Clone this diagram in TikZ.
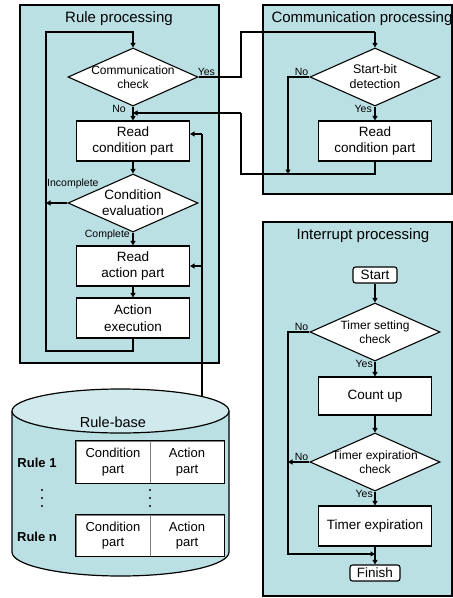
\documentclass[tikz,border=0pt]{standalone}
\usepackage{fontspec}
\setmainfont{Liberation Sans}
\usepackage{tikz}
\usetikzlibrary{shapes.geometric,arrows.meta}
\definecolor{panelcyan}{RGB}{187,224,228}
\tikzstyle{arrow} = [line width=1.8pt,-{Triangle[length=4.5pt,width=5pt]}]
\tikzstyle{thinline} = [line width=1.1pt]
\tikzstyle{panel} = [draw, line width=1.2pt, fill=panelcyan]
\tikzstyle{title} = [font=\fontsize{15}{18}\selectfont]
\tikzstyle{process} = [draw, fill=white, line width=1.1pt, minimum width=113pt, minimum height=40pt, inner sep=0pt, align=center, font=\fontsize{13.5}{16.5}\selectfont]
\tikzstyle{decision} = [draw, fill=white, diamond, line width=1.1pt, minimum width=130pt, minimum height=58pt, inner sep=0pt]
\tikzstyle{dtext} = [align=center, font=\fontsize{12.5}{15}\selectfont]
\tikzstyle{terminal} = [draw, fill=white, rounded corners=2.5pt, line width=1.1pt, minimum height=16pt, inner sep=0pt, font=\fontsize{13.5}{16}\selectfont]
\tikzstyle{tag} = [font=\fontsize{10.5}{12}\selectfont, inner sep=1pt]
\tikzstyle{cell} = [draw=gray, fill=white, line width=1pt, minimum width=74pt, minimum height=42pt, inner sep=0pt, align=center, font=\fontsize{13}{15.5}\selectfont]
\tikzstyle{rulename} = [font=\bfseries\fontsize{13}{15}\selectfont]

\begin{document}
\begin{tikzpicture}[x=1pt,y=-1pt]
	\useasboundingbox (0,0) rectangle (453,598);
	% panels
	\draw[panel] (20,5) rectangle (219,363);
	\draw[panel] (263,5) rectangle (452,194);
	\draw[panel] (263,222) rectangle (452,596);
	\node[title] (rpt) at (119,19) {Rule processing};
	\node[title] (cpt) at (362,19) {Communication processing};
	\node[title] (ipt) at (363,236) {Interrupt processing};

	% rule processing
	\node[decision, label={[dtext,font=\fontsize{12}{14.5}\selectfont]center:Communication\\check}] (comchk) at (133,77) {};
	\node[process] (readcond) at (133,141) {Read\\condition part};
	\node[decision, label={[dtext,font=\fontsize{13.5}{16}\selectfont]center:Condition\\evaluation}] (condeval) at (133,203) {};
	\node[process] (readact) at (133,266) {Read\\action part};
	\node[process] (actexec) at (133,318) {Action\\execution};

	% communication processing
	\node[decision, label={[dtext]center:Start-bit\\detection}] (startbit) at (375,77) {};
	\node[process] (commread) at (375,141) {Read\\condition part};

	% interrupt processing
	\node[terminal, minimum width=44pt] (start) at (375,275) {Start};
	\node[decision, label={[dtext,font=\fontsize{12}{14.5}\selectfont]center:Timer setting\\check}] (tset) at (375,332) {};
	\node[process, minimum height=38pt] (countup) at (375,396) {Count up};
	\node[decision, label={[dtext,font=\fontsize{12}{14.5}\selectfont]center:Timer expiration\\check}] (texp) at (375,462) {};
	\node[process] (timexp) at (375,526) {Timer expiration};
	\node[terminal, minimum width=50pt] (finish) at (375,573) {Finish};

	% bends
	\coordinate (loopbl) at (46,351);
	\coordinate (looptl) at (46,32);
	\coordinate (yestop) at (241,32);
	\coordinate (retbot) at (241,174);
	\coordinate (retjoin) at (241,113);
	\coordinate (nobend) at (288,77);
	\coordinate (rbjoin) at (202,134);
	\coordinate (rbtop) at (202,397);
	\coordinate (irqleft) at (288,554);

	% rule loop
	\draw[arrow] (actexec.south) |- (loopbl) |- (looptl) -| (comchk.north);
	\draw[arrow] (comchk.south) -- (readcond.north);
	\node[tag, anchor=north east] (nocc) at ([xshift=-6pt,yshift=2pt]comchk.south) {No};
	\draw[arrow] (readcond.south) -- (condeval.north);
	\draw[arrow] (condeval.west) -- (condeval.west -| loopbl);
	\node[tag, anchor=south west] (incomp) at (46,190) {Incomplete};
	\draw[arrow] (condeval.south) -- (readact.north);
	\node[tag, anchor=north east] (compl) at ([xshift=-2pt,yshift=4pt]condeval.south) {Complete};
	\draw[arrow] (readact.south) -- (actexec.north);

	% to and from communication processing
	\draw[thinline] (comchk.east) -| (yestop) -- (yestop -| startbit.north);
	\draw[arrow] (yestop -| startbit.north) -- (startbit.north);
	\node[tag, anchor=south west] (yescc) at ([xshift=-2pt]comchk.east) {Yes};
	\draw[arrow] (startbit.west) -| (retbot -| nobend);
	\node[tag, above left] (nosb) at (startbit.west) {No};
	\draw[arrow] (startbit.south) -- (commread.north);
	\node[tag, anchor=north east] (yessb) at ([xshift=-2pt,yshift=2pt]startbit.south) {Yes};
	\draw[thinline] (commread.south) |- (retbot) -- (retjoin);
	\draw[arrow] (retjoin) -- (retjoin -| comchk.south);

	% interrupt flow
	\draw[arrow] (start.south) -- (tset.north);
	\draw[arrow] (tset.west) -| (irqleft) -- (irqleft -| finish.north);
	\node[tag, above left] (nots) at (tset.west) {No};
	\draw[arrow] (tset.south) -- (countup.north);
	\node[tag, anchor=north east] (yests) at ([xshift=-1pt,yshift=2pt]tset.south) {Yes};
	\draw[arrow] (countup.south) -- (texp.north);
	\draw[arrow] (texp.west) -- (texp.west -| irqleft);
	\node[tag, above left] (note) at (texp.west) {No};
	\draw[arrow] (texp.south) -- (timexp.north);
	\node[tag, anchor=north east] (yeste) at ([xshift=-1pt,yshift=2pt]texp.south) {Yes};
	\draw[arrow] (timexp.south) -- (finish.north);

	% rule-base
	\draw[line width=1.2pt, fill=panelcyan] (12,411) -- (12,552) arc[start angle=180, end angle=0, x radius=108.5, y radius=24] -- (229,411);
	\draw[line width=1.2pt, fill=panelcyan!70!white] (120.5,411) ellipse[x radius=108.5, y radius=22];
	\node[font=\fontsize{14.5}{17}\selectfont] (rbtitle) at (113,422) {Rule-base};
	\node[cell] (cond1) at (113,462) {Condition\\part};
	\node[cell] (act1) at (187,462) {Action\\part};
	\node[cell, minimum height=41pt] (condn) at (113,535.5) {Condition\\part};
	\node[cell, minimum height=41pt] (actn) at (187,535.5) {Action\\part};
	\draw[line width=1.1pt] (cond1.north west) rectangle (act1.south east);
	\draw[line width=1.1pt] (condn.north west) rectangle (actn.south east);
	\node[rulename] (rule1) at (37,463) {Rule 1};
	\node[rulename] (rulen) at (37,537) {Rule n};
	% vertical dots between the rows
	\fill (42,490) circle (1.2) (42,498) circle (1.2) (42,506) circle (1.2);
	\fill (150,490) circle (1.2) (150,498) circle (1.2) (150,506) circle (1.2);
	\draw[thinline] (rbtop) -- (rbjoin);
	\draw[arrow] (rbjoin) -- (rbjoin -| readcond.east);
	\draw[arrow] (readact.east -| rbjoin) -- (readact.east);
\end{tikzpicture}
\end{document}
